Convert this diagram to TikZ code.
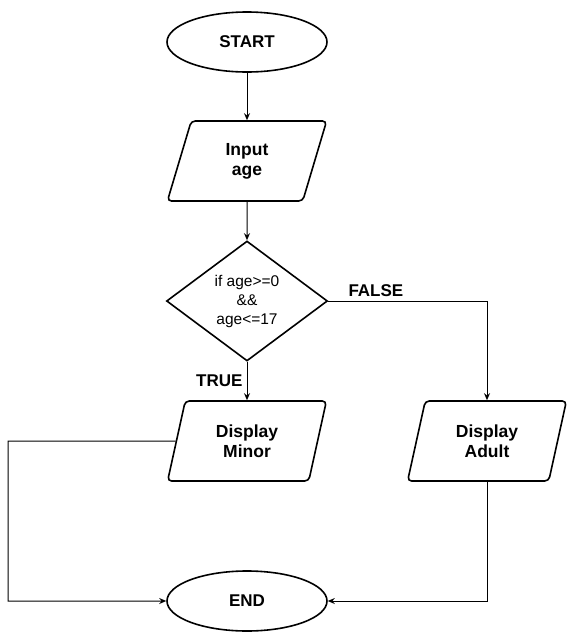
\documentclass[tikz,border=0pt]{standalone}
\usepackage{fontspec}
\setmainfont{Liberation Sans}
\usetikzlibrary{shapes.geometric,arrows.meta}

\begin{document}
\begin{tikzpicture}[x=1pt,y=1pt,
term/.style={draw,ellipse,line width=1.6pt,minimum width=160pt,minimum height=60pt,
font=\fontsize{17}{20}\selectfont\bfseries},
io/.style={draw,trapezium,trapezium left angle=76,trapezium right angle=104,
trapezium stretches=true,rounded corners=4pt,line width=1.6pt,minimum width=160pt,
minimum height=80pt,align=center,font=\fontsize{17.5}{20}\selectfont\bfseries},
test/.style={draw,diamond,aspect=1.34,inner sep=0pt,minimum width=161pt,
minimum height=120pt,line width=1.6pt,align=center,font=\fontsize{15.5}{19}\selectfont},
flow/.style={-{Stealth[length=7pt,width=6pt]},line width=1pt},
tag/.style={font=\fontsize{17}{19}\selectfont\bfseries,inner sep=4pt}]
\useasboundingbox (0,0) rectangle (569,-643);
\node[term] (start) at (247,-42) {START};
\node[io] (input) at (247,-161) {Input\\age};
\node[test] (check) at (247,-301) {if age>=0\\\&\&\\age<=17};
\node[io] (minor) at (247,-441) {Display\\Minor};
\node[io] (adult) at (487,-441) {Display\\Adult};
\node[term] (end) at (247,-601) {END};
\coordinate (leftrail) at (8,-441);
\draw[flow] (start)--(input);\draw[flow] (input)--(check);
\draw[flow] (check)--node[tag,left]{TRUE}(minor);
\draw[flow] (check.east)-|node[tag,above,pos=.15]{FALSE}(adult.north);
\draw[flow] (minor.west)--(leftrail)|-(end.west);
\draw[flow] (adult.south)|-(end.east);
\end{tikzpicture}
\end{document}
